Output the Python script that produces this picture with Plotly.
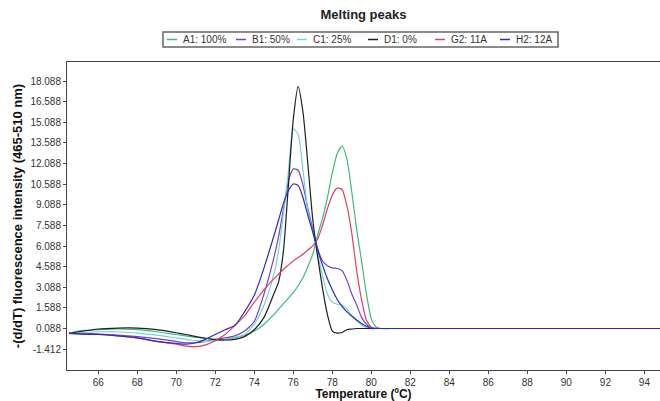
import plotly.graph_objects as go

# Temperature grid (°C)
temps = [64.5, 65, 66, 67, 68, 69, 70, 70.5, 71, 71.5, 72, 72.5, 73, 73.5, 74, 74.5, 75,
         75.25, 75.5, 75.75, 76, 76.25, 76.5, 76.75, 77, 77.25, 77.5, 77.75, 78, 78.25,
         78.5, 78.75, 79, 79.25, 79.5, 79.75, 80, 80.25, 80.5, 81, 82, 84, 86, 88, 90, 92, 94, 94.8]

a1_100 = [-0.27, -0.1, 0.0, 0.05, 0.0, -0.15, -0.35, -0.45, -0.55, -0.62, -0.7, -0.7, -0.6, -0.4,
          -0.1, 0.4, 1.1, 1.5, 1.9, 2.3, 2.7, 3.2, 3.8, 4.6, 5.5, 6.9, 8.1, 9.6, 11.4, 12.8,
          13.36, 12.4, 10.0, 7.3, 5.0, 2.6, 0.8, 0.2, 0.088, 0.088, 0.088, 0.088, 0.088, 0.088,
          0.088, 0.088, 0.088, 0.088]

b1_50 = [-0.27, -0.25, -0.3, -0.4, -0.5, -0.65, -0.85, -0.95, -0.95, -0.85, -0.7, -0.6, -0.45, -0.1,
         0.6, 2.6, 5.2, 6.8, 8.8, 10.8, 11.7, 11.6, 10.5, 8.8, 7.3, 5.9, 5.0, 4.65, 4.5, 4.45,
         4.3, 3.6, 2.6, 1.8, 0.9, 0.4, 0.1, 0.088, 0.088, 0.088, 0.088, 0.088, 0.088, 0.088,
         0.088, 0.088, 0.088, 0.088]

c1_25 = [-0.27, -0.2, -0.15, -0.15, -0.25, -0.4, -0.6, -0.7, -0.8, -0.85, -0.8, -0.7, -0.55, -0.35,
         0.4, 1.8, 4.0, 5.8, 8.5, 11.5, 14.6, 14.2, 11.6, 8.6, 7.1, 5.5, 3.9, 2.6, 2.0, 1.85,
         1.8, 1.5, 1.0, 0.65, 0.35, 0.15, 0.088, 0.088, 0.088, 0.088, 0.088, 0.088, 0.088, 0.088,
         0.088, 0.088, 0.088, 0.088]

d1_0 = [-0.27, -0.15, 0.05, 0.12, 0.12, 0.0, -0.22, -0.35, -0.5, -0.62, -0.72, -0.75, -0.7, -0.5,
        0.0, 0.9, 2.6, 3.5, 5.8, 10.5, 15.3, 17.7, 15.8, 12.0, 8.0, 5.3, 3.0, 1.1, -0.1, -0.25,
        -0.2, 0.0, 0.05, 0.088, 0.088, 0.088, 0.088, 0.088, 0.088, 0.088, 0.088, 0.088, 0.088,
        0.088, 0.088, 0.088, 0.088, 0.088]

g2_11a = [-0.27, -0.3, -0.35, -0.45, -0.6, -0.85, -1.05, -1.2, -1.23, -1.1, -0.8, -0.35, 0.3, 1.0,
          2.0, 2.9, 3.7, 4.05, 4.4, 4.7, 5.0, 5.25, 5.5, 5.8, 6.1, 6.6, 7.6, 8.8, 9.8, 10.3,
          10.2, 9.0, 7.0, 4.3, 2.2, 0.7, 0.2, 0.1, 0.088, 0.088, 0.088, 0.088, 0.088, 0.088,
          0.088, 0.088, 0.088, 0.088]

h2_12a = [-0.27, -0.3, -0.35, -0.45, -0.6, -0.85, -1.0, -1.05, -0.95, -0.7, -0.35, 0.0, 0.3, 1.3,
          2.5, 4.5, 6.8, 8.0, 9.2, 10.1, 10.6, 10.5, 9.6, 8.3, 7.1, 5.8, 4.7, 3.7, 2.9, 2.2,
          1.7, 1.3, 1.0, 0.7, 0.45, 0.25, 0.1, 0.088, 0.088, 0.088, 0.088, 0.088, 0.088, 0.088,
          0.088, 0.088, 0.088, 0.088]

series_names = ["A1: 100%", "B1: 50%", "C1: 25%", "D1: 0%", "G2: 11A", "H2: 12A"]
series_values = [a1_100, b1_50, c1_25, d1_0, g2_11a, h2_12a]
series_colors = ["#3dbb7a", "#7a3fc8", "#6fd6dc", "#1e1e1e", "#e0405e", "#2c2cc0"]

y_tickvals = [-1.412 + 1.5 * k for k in range(14)]
y_ticktext = ["%.3f" % v for v in y_tickvals]
x_tickvals = list(range(66, 95, 2))

# plot-area pixel frame (layout only)
PL, PR, PT, PB = 67, 660, 62, 370
W, H = 660, 401


def px_x(p):
    return (p - PL) / (PR - PL)


def px_y(p):
    return (PB - p) / (PB - PT)


fig = go.Figure()
for name, vals, col in zip(series_names, series_values, series_colors):
    fig.add_trace(go.Scatter(x=temps, y=vals, mode="lines", name=name, showlegend=False,
                             line=dict(color=col, width=1.2, shape="spline", smoothing=0.6)))

# Manual legend (box, line samples, labels)
legend_line_x = [167, 236, 297, 368, 435, 500]
legend_y = 39.5
shapes = [dict(type="rect", xref="paper", yref="paper", x0=px_x(163), x1=px_x(558),
               y0=px_y(32), y1=px_y(47), line=dict(color="#666", width=1.5),
               fillcolor="white", layer="above")]
annotations = []
for name, col, lx in zip(series_names, series_colors, legend_line_x):
    shapes.append(dict(type="line", xref="paper", yref="paper", x0=px_x(lx), x1=px_x(lx + 10),
                       y0=px_y(legend_y), y1=px_y(legend_y), line=dict(color=col, width=1.5)))
    annotations.append(dict(xref="paper", yref="paper", x=px_x(lx + 14), y=px_y(legend_y),
                            xanchor="left", yanchor="middle", text=name, showarrow=False,
                            font=dict(size=10, color="#333")))

font_family = "Liberation Sans, Arial, sans-serif"
fig.update_layout(
    width=W, height=H,
    margin=dict(l=PL, r=W - PR, t=PT, b=H - PB),
    paper_bgcolor="white", plot_bgcolor="white",
    font=dict(family=font_family, size=10, color="#222"),
    title=dict(text="<b>Melting peaks</b>", x=(PL + PR) / 2 / W, xanchor="center",
               y=1 - 14 / H, yanchor="middle", font=dict(size=13, color="#222")),
    showlegend=False,
    shapes=shapes,
    annotations=annotations,
)
fig.update_xaxes(range=[64.4, 94.8], tickvals=x_tickvals, ticks="outside", ticklen=3,
                 tickcolor="#444", showline=True, linecolor="#444", linewidth=1, mirror=True,
                 showgrid=False, zeroline=False, tickfont=dict(size=10, color="#333"),
                 title=dict(text="<b>Temperature (ºC)</b>", font=dict(size=12, color="#111"),
                            standoff=2), automargin=False)
fig.update_yaxes(range=[-2.93, 19.47], tickvals=y_tickvals, ticktext=y_ticktext, ticks="outside",
                 ticklen=3, tickcolor="#444", showline=True, linecolor="#444", linewidth=1,
                 mirror=True, showgrid=False, zeroline=False, tickfont=dict(size=10, color="#333"),
                 title=dict(text="<b>-(d/dT) fluorescence intensity (465-510 nm)</b>",
                            font=dict(size=13, color="#111"), standoff=4), automargin=False)

fig.write_html("out.html", config={"displayModeBar": False},
               post_script="document.body.style.margin='0';document.body.style.overflow='hidden';")
